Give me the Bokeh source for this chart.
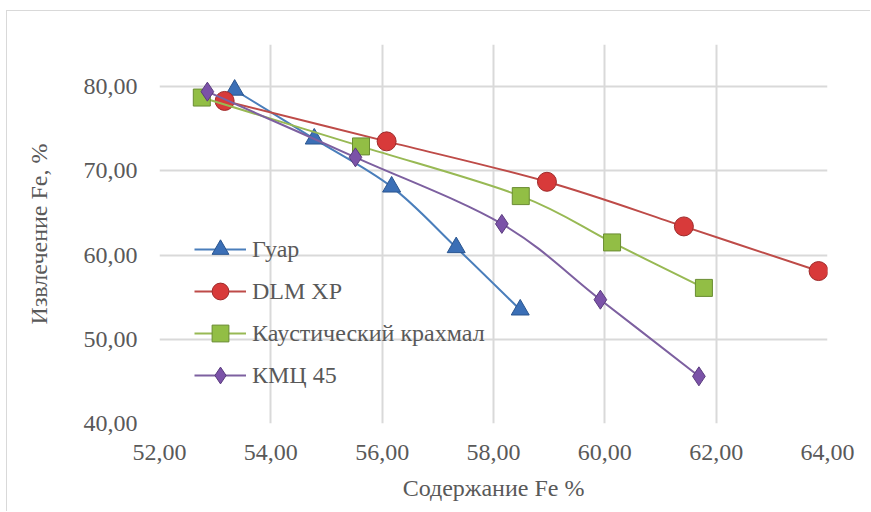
import numpy as np
from bokeh.plotting import figure
from bokeh.models import (Range1d, FixedTicker, CustomJSTickFormatter, Legend, LegendItem,
                          ColumnDataSource)
from bokeh.embed import file_html
from bokeh.resources import INLINE

# ---- data ----
series_names = ["Гуар", "DLM XP", "Каустический крахмал", "КМЦ 45"]

guar_x = [53.35, 54.78, 56.17, 57.33, 58.48]
guar_y = [79.6, 73.8, 68.1, 60.9, 53.5]

dlm_x = [53.17, 56.08, 58.96, 61.42, 63.84]
dlm_y = [78.3, 73.5, 68.7, 63.4, 58.1]

starch_x = [52.76, 55.62, 58.49, 60.13, 61.78]
starch_y = [78.7, 72.9, 67.0, 61.5, 56.1]

kmc_x = [52.86, 55.52, 58.15, 59.92, 61.69]
kmc_y = [79.4, 71.6, 63.7, 54.7, 45.6]

x_ticks = [52, 54, 56, 58, 60, 62, 64]
y_ticks = [40, 50, 60, 70, 80]

FONT = "Liberation Serif"
FS = "24px"
TXT = "#595959"

p = figure(width=864, height=501, output_backend="svg", toolbar_location=None,
           x_range=Range1d(52, 64), y_range=Range1d(40, 85),
           min_border_left=152, min_border_right=44, min_border_top=33, min_border_bottom=89)
p.styles = {"border-top": "1px solid #D9D9D9", "border-left": "1px solid #D9D9D9",
            "margin-left": "6px", "margin-top": "10px"}
p.outline_line_color = None
p.background_fill_color = "white"
p.border_fill_color = "white"

fmt = CustomJSTickFormatter(code="return tick.toFixed(2).replace('.', ',');")
for ax, ticks in ((p.xaxis[0], x_ticks), (p.yaxis[0], y_ticks)):
    ax.ticker = FixedTicker(ticks=ticks)
    ax.formatter = fmt
    ax.axis_line_color = None
    ax.major_tick_line_color = None
    ax.minor_tick_line_color = None
    ax.major_label_text_font = FONT
    ax.major_label_text_font_size = FS
    ax.major_label_text_color = TXT
    ax.axis_label_text_font = FONT
    ax.axis_label_text_font_size = FS
    ax.axis_label_text_color = TXT
    ax.axis_label_text_font_style = "normal"

p.xaxis[0].axis_label = "Содержание Fe %"
p.yaxis[0].axis_label = "Извлечение Fe, %"
p.xaxis[0].major_label_standoff = 15
p.yaxis[0].major_label_standoff = 16
p.xaxis[0].axis_label_standoff = 12
p.yaxis[0].axis_label_standoff = 29

for g in (p.xgrid[0], p.ygrid[0]):
    g.grid_line_color = "#D9D9D9"
    g.grid_line_width = 2
p.xgrid[0].ticker = FixedTicker(ticks=x_ticks)
p.ygrid[0].ticker = FixedTicker(ticks=y_ticks)


def smooth_segments(xs, ys):
    P = np.column_stack([xs, ys]).astype(float)
    n = len(P)
    x0, y0, x1, y1, cx0, cy0, cx1, cy1 = ([] for _ in range(8))
    for i in range(n - 1):
        pm = P[max(i - 1, 0)]
        pi = P[i]
        pn = P[i + 1]
        pnn = P[min(i + 2, n - 1)]
        c0 = pi + (pn - pm) / 6.0
        c1 = pn - (pnn - pi) / 6.0
        x0.append(pi[0]); y0.append(pi[1]); x1.append(pn[0]); y1.append(pn[1])
        cx0.append(c0[0]); cy0.append(c0[1]); cx1.append(c1[0]); cy1.append(c1[1])
    return dict(x0=x0, y0=y0, x1=x1, y1=y1, cx0=cx0, cy0=cy0, cx1=cx1, cy1=cy1)


styles = [
    (guar_x, guar_y, "#4A7EBB", "triangle", "#3B6FB6", "#2A558F", 18),
    (dlm_x, dlm_y, "#BE4B48", "circle", "#D83A3A", "#9E2B2B", 19),
    (starch_x, starch_y, "#98B954", "square", "#92BE45", "#6A8C33", 17),
    (kmc_x, kmc_y, "#7D60A0", "diamond", "#7B52A8", "#5A3C7E", 19),
]

items = []
for name, (xs, ys, lc, mk, fc, oc, sz) in zip(series_names, styles):
    seg = ColumnDataSource(smooth_segments(xs, ys))
    br = p.bezier(x0="x0", y0="y0", x1="x1", y1="y1", cx0="cx0", cy0="cy0",
                  cx1="cx1", cy1="cy1", source=seg, line_color=lc, line_width=2)
    sr = p.scatter(xs, ys, marker=mk, size=sz, fill_color=fc,
                   line_color=oc, line_width=1)
    items.append(LegendItem(label=name, renderers=[br, sr]))

legend = Legend(items=items, location=(35, 27), orientation="vertical",
                glyph_width=52, glyph_height=42, spacing=0, padding=0, margin=0,
                label_standoff=6, border_line_color=None, background_fill_alpha=0,
                label_text_font=FONT, label_text_font_size=FS,
                label_text_color=TXT)
p.add_layout(legend, "center")

open("out.html", "w").write(file_html(p, INLINE))
